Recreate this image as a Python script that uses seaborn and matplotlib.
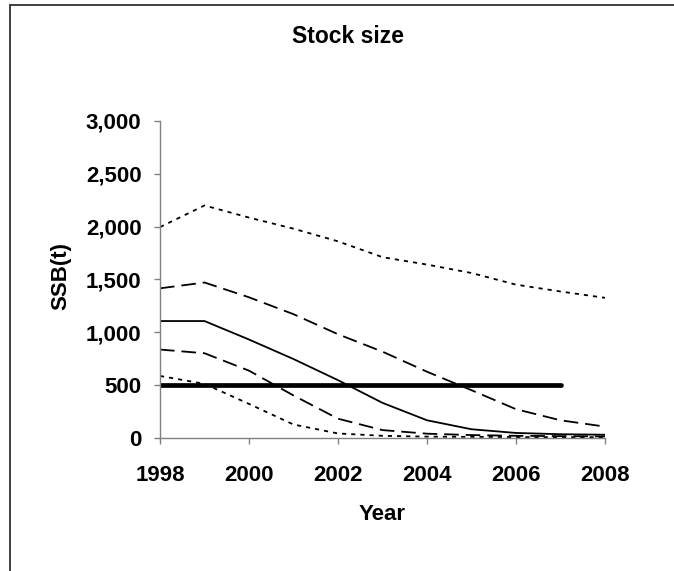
import matplotlib
matplotlib.use("Agg")
import matplotlib.pyplot as plt
import seaborn as sns
import pandas as pd
from matplotlib.lines import Line2D

# Data
years = list(range(1998, 2009))
upper_dotted = [1995, 2200, 2085, 1980, 1860, 1710, 1640, 1560, 1450, 1385, 1325]
upper_dashed = [1415, 1470, 1330, 1170, 980, 815, 625, 450, 270, 165, 105]
median = [1105, 1105, 930, 745, 545, 330, 165, 80, 45, 33, 28]
lower_dashed = [835, 800, 635, 400, 180, 72, 38, 25, 18, 15, 12]
lower_dotted = [585, 510, 320, 125, 40, 18, 10, 8, 6, 5, 5]
blim_years = [1998, 2007]
blim = [500, 500]

sns.set_theme(style="white")
plt.rcParams["font.family"] = ["Liberation Sans", "DejaVu Sans"]
plt.rcParams["font.weight"] = "bold"
plt.rcParams["lines.scale_dashes"] = False

fig = plt.figure(figsize=(6.74, 5.71), dpi=100)
ax = fig.add_axes([160 / 674, 133.3 / 571, 445 / 674, 316.7 / 571])

series = [
    (upper_dotted, (3.0, 3.6)),
    (upper_dashed, (10.5, 5.0)),
    (median, None),
    (lower_dashed, (10.5, 5.0)),
    (lower_dotted, (3.0, 3.6)),
]
for vals, dash in series:
    df = pd.DataFrame({"Year": years, "SSB": vals})
    sns.lineplot(data=df, x="Year", y="SSB", ax=ax, color="black", linewidth=1.3)
    if dash is not None:
        ax.lines[-1].set_dashes(dash)

df_blim = pd.DataFrame({"Year": blim_years, "SSB": blim})
sns.lineplot(data=df_blim, x="Year", y="SSB", ax=ax, color="black", linewidth=3.4,
             solid_capstyle="round")

ax.set_xlim(1998, 2008)
ax.set_ylim(0, 3000)
ax.set_xticks(range(1998, 2009, 2))
ax.set_yticks(range(0, 3001, 500))
ax.set_yticklabels([f"{v:,}" for v in range(0, 3001, 500)])

for side in ["top", "right"]:
    ax.spines[side].set_visible(False)
for side in ["left", "bottom"]:
    ax.spines[side].set_color("#808080")
    ax.spines[side].set_linewidth(1.0)
ax.tick_params(axis="both", direction="out", length=4.3, width=1.0, color="#808080",
               labelsize=16, labelcolor="black")
ax.tick_params(axis="x", pad=15)
ax.tick_params(axis="y", pad=9)
ax.tick_params(left=True, bottom=True)
for lbl in ax.get_xticklabels() + ax.get_yticklabels():
    lbl.set_fontweight("bold")

ax.set_xlabel("Year", fontsize=16, fontweight="bold", color="black")
ax.set_ylabel("SSB(t)", fontsize=16, fontweight="bold", color="black")
ax.xaxis.set_label_coords(0.5, -0.21)
ax.yaxis.set_label_coords(-0.2, 0.51)

fig.text(348 / 674, 1 - 36.7 / 571, "Stock size", ha="center", va="center",
         fontsize=16.5, fontweight="bold", color="black")

# outer chart frame (Excel chart area border)
fig.add_artist(Line2D([9.5 / 674, 1.0], [1 - 4.5 / 571, 1 - 4.5 / 571],
                      color="#303030", linewidth=1.3, transform=fig.transFigure))
fig.add_artist(Line2D([9.5 / 674, 9.5 / 674], [0.0, 1 - 4.5 / 571],
                      color="#303030", linewidth=1.3, transform=fig.transFigure))

fig.savefig("out.png", dpi=100)
